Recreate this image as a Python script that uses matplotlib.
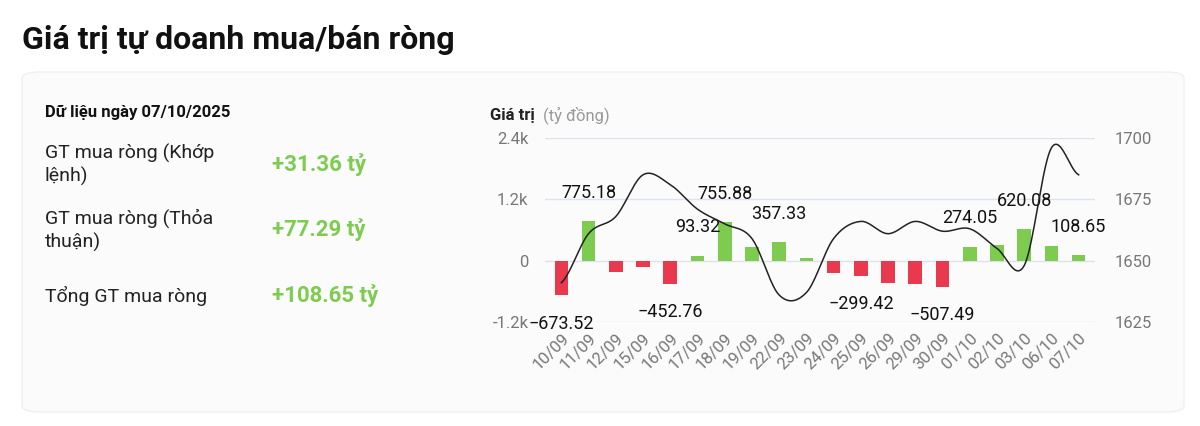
import numpy as np
import matplotlib
matplotlib.use("Agg")
import matplotlib.pyplot as plt
from matplotlib.patches import FancyBboxPatch

plt.rcParams['font.family'] = ['Roboto', 'DejaVu Sans']

dates = ["10/09", "11/09", "12/09", "15/09", "16/09", "17/09", "18/09", "19/09", "22/09", "23/09",
         "24/09", "25/09", "26/09", "29/09", "30/09", "01/10", "02/10", "03/10", "06/10", "07/10"]
net_values = [-673.52, 775.18, -220, -130, -452.76, 93.32, 755.88, 270, 357.33, 50,
              -250, -299.42, -430, -450, -507.49, 274.05, 310, 620.08, 280, 108.65]
index_values = [1641, 1661, 1668, 1685, 1681, 1671, 1665, 1659, 1636, 1637,
                1659, 1666, 1661, 1666, 1662, 1663, 1655, 1648, 1696, 1685]
labelled = ["10/09", "11/09", "16/09", "17/09", "18/09", "22/09", "25/09", "30/09", "01/10", "03/10", "07/10"]

summary_rows = [("GT mua ròng (Khớp\nlệnh)", "+31.36 tỷ"),
                ("GT mua ròng (Thỏa\nthuận)", "+77.29 tỷ"),
                ("Tổng GT mua ròng", "+108.65 tỷ")]

GREEN = "#7dcc4f"
RED = "#e8394f"

fig = plt.figure(figsize=(12, 4.26), dpi=100)
fig.patch.set_facecolor("white")

card = FancyBboxPatch((22 / 1200, 14 / 426), 1162 / 1200, 340 / 426,
                      boxstyle="round,pad=0,rounding_size=0.015",
                      transform=fig.transFigure, facecolor="#fbfbfc",
                      edgecolor="#f0f0f2", lw=1, zorder=-5)
fig.patches.append(card)

fig.text(22 / 1200, 1 - 40 / 426, "Giá trị tự doanh mua/bán ròng", fontsize=23,
         fontweight="bold", va="center", color="#111")
fig.text(45 / 1200, 1 - 112 / 426, "Dữ liệu ngày 07/10/2025", fontsize=12,
         fontweight="bold", va="center", color="#111")
for (lab, val), y in zip(summary_rows, [165, 230, 296]):
    fig.text(45 / 1200, 1 - y / 426, lab, fontsize=14, va="center", color="#222",
             linespacing=1.3)
    fig.text(272 / 1200, 1 - y / 426, val, fontsize=16, fontweight="bold",
             va="center", color=GREEN)

fig.text(490 / 1200, 1 - 115 / 426, "Giá trị", fontsize=12, fontweight="bold",
         va="center", color="#222")
fig.text(543 / 1200, 1 - 115 / 426, "(tỷ đồng)", fontsize=12, va="center", color="#999")

ax = fig.add_axes([545 / 1200, 1 - 322 / 426, 550 / 1200, 184 / 426], zorder=2)
ax.set_facecolor("none")
x = np.arange(len(dates))
colors = [GREEN if v >= 0 else RED for v in net_values]
ax.bar(x, net_values, width=0.5, color=colors, zorder=2)
ax.set_ylim(-1200, 2400)
ax.set_yticks([-1200, 0, 1200, 2400])
ax.set_yticklabels(["-1.2k", "0", "1.2k", "2.4k"])
ax.set_xlim(-0.6, len(dates) - 0.4)
ax.set_xticks(x)
ax.set_xticklabels(dates, rotation=45, ha="right", rotation_mode="anchor")
ax.grid(axis="y", color="#dde3ea", lw=1, zorder=0)
for s in ax.spines.values():
    s.set_visible(False)
ax.tick_params(axis="y", length=0, colors="#777", labelsize=12, pad=12)
ax.tick_params(axis="x", length=0, colors="#777", labelsize=12, pad=6)
for i, (d, v) in enumerate(zip(dates, net_values)):
    if d in labelled:
        off = 14 if v >= 0 else -14
        ax.annotate(f"{v:.2f}".replace("-", "\u2212"), (i, v), xytext=(0, off),
                    textcoords="offset points", ha="center",
                    va="bottom" if v >= 0 else "top", fontsize=13, color="#111",
                    zorder=5)

ax2 = ax.twinx()
ax2.set_ylim(1625, 1700)
ax2.set_yticks([1625, 1650, 1675, 1700])
for s in ax2.spines.values():
    s.set_visible(False)
ax2.tick_params(length=0, colors="#777", labelsize=12, pad=14)
# smooth drawing of the index line (Catmull-Rom through the data points)
p = np.array(index_values, dtype=float)
pp = np.concatenate([[p[0]], p, [p[-1]]])
xs, ys = [], []
for i in range(len(p) - 1):
    t = np.linspace(0, 1, 20)
    p0, p1, p2, p3 = pp[i], pp[i + 1], pp[i + 2], pp[i + 3]
    yv = 0.5 * (2 * p1 + (-p0 + p2) * t + (2 * p0 - 5 * p1 + 4 * p2 - p3) * t ** 2
                + (-p0 + 3 * p1 - 3 * p2 + p3) * t ** 3)
    xs.append(i + t)
    ys.append(yv)
ax2.plot(np.concatenate(xs), np.concatenate(ys), color="#222", lw=1.1, zorder=3)

fig.savefig("out.png", dpi=100)
